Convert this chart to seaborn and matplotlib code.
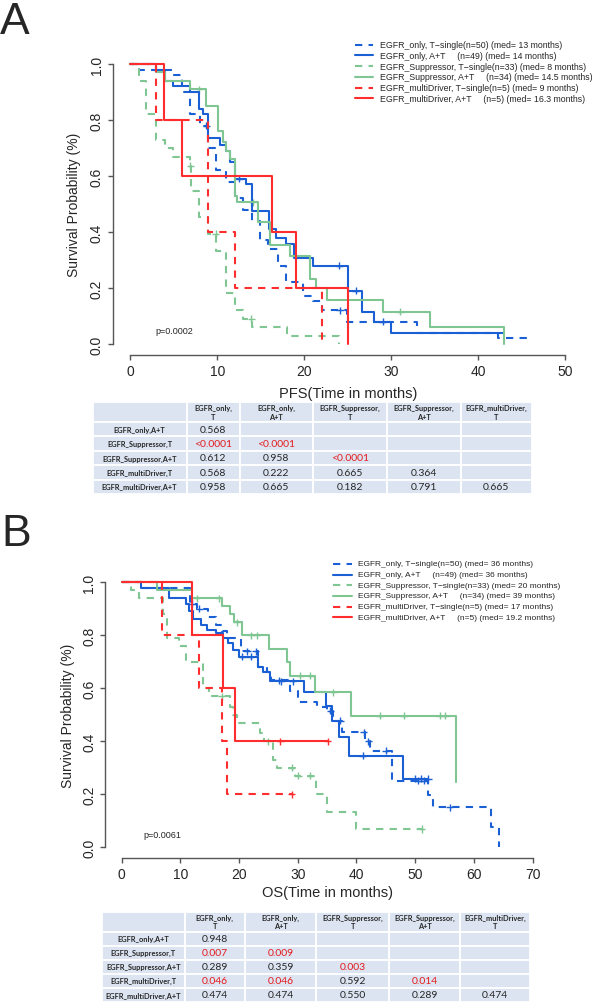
import numpy as np
import pandas as pd
import matplotlib.pyplot as plt
from matplotlib.lines import Line2D
import seaborn as sns

W, H = 596, 1004

# grupos, colores y estilo de linea
grupos = ["EGFR_only, T-single", "EGFR_only, A+T", "EGFR_Suppressor, T-single",
          "EGFR_Suppressor, A+T", "EGFR_multiDriver, T-single", "EGFR_multiDriver, A+T"]
colores = ["#1a5fd3", "#1a5fd3", "#7fc693", "#7fc693", "#ff2d2d", "#ff2d2d"]
discontinua = [True, False, True, False, True, False]

etiquetas_leyenda = ["EGFR_only, T\u2212single(n={n}) (med= {m} months)",
                     "EGFR_only, A+T     (n={n}) (med= {m} months)",
                     "EGFR_Suppressor, T\u2212single(n={n}) (med= {m} months)",
                     "EGFR_Suppressor, A+T     (n={n}) (med= {m} months)",
                     "EGFR_multiDriver, T\u2212single(n={n}) (med= {m} months)",
                     "EGFR_multiDriver, A+T     (n={n}) (med= {m} months)"]
n_pacientes = [50, 49, 33, 34, 5, 5]
pfs_mediana = ["13", "14", "8", "14.5", "9", "16.3"]
os_mediana = ["36", "36", "20", "39", "17", "19.2"]

# ---- PFS (panel A) ----
pfs_only_t_time = [0, 1.0, 4.9, 5.9, 6.9, 8.0, 8.9, 9.9, 11.0, 12.0, 13.0, 14.0, 14.9, 15.8, 17.0, 17.9, 19.9, 21.0, 22.0, 24.9, 33.0, 42.3, 46.2]
pfs_only_t_surv = [1.0, 0.98, 0.96, 0.90, 0.82, 0.78, 0.70, 0.62, 0.58, 0.52, 0.48, 0.44, 0.37, 0.34, 0.28, 0.22, 0.17, 0.155, 0.12, 0.08, 0.04, 0.02, 0.02]
pfs_only_t_cens = [8.7, 24.1, 29.0]

pfs_only_at_time = [0, 3.0, 4.0, 4.9, 6.9, 7.9, 8.4, 8.9, 10.3, 11.0, 11.4, 12.0, 13.3, 14.0, 15.9, 16.7, 17.9, 18.8, 21.0, 25.0, 26.6, 28.0, 30.0, 43.0]
pfs_only_at_surv = [1.0, 0.98, 0.94, 0.92, 0.90, 0.84, 0.82, 0.735, 0.71, 0.69, 0.65, 0.59, 0.57, 0.476, 0.41, 0.38, 0.357, 0.306, 0.28, 0.19, 0.113, 0.08, 0.039, 0.039]
pfs_only_at_cens = [12.5, 24.0, 25.9]

pfs_supp_t_time = [0, 1.0, 1.8, 2.9, 4.0, 4.9, 6.8, 7.0, 7.9, 8.9, 9.9, 11.0, 12.0, 13.0, 14.0, 18.0, 24.0]
pfs_supp_t_surv = [1.0, 0.94, 0.82, 0.73, 0.70, 0.667, 0.636, 0.545, 0.455, 0.394, 0.333, 0.182, 0.121, 0.091, 0.061, 0.030, 0.0]
pfs_supp_t_cens = [6.9, 9.8, 13.9]

pfs_supp_at_time = [0, 3.0, 4.0, 6.9, 8.7, 10.1, 10.6, 11.0, 11.4, 12.0, 12.3, 14.7, 16.1, 18.4, 20.7, 21.3, 22.6, 29.0, 34.5, 43.0]
pfs_supp_at_surv = [1.0, 0.97, 0.94, 0.91, 0.85, 0.76, 0.72, 0.69, 0.66, 0.53, 0.506, 0.434, 0.355, 0.315, 0.232, 0.20, 0.158, 0.115, 0.06, 0.0]
pfs_supp_at_cens = [7.9, 14.1, 31.0]

pfs_multi_t_time = [0, 2.9, 8.9, 12.0, 22.0]
pfs_multi_t_surv = [1.0, 0.8, 0.4, 0.2, 0.0]
pfs_multi_t_cens = []

pfs_multi_at_time = [0, 3.9, 5.9, 16.3, 19.0, 25.0]
pfs_multi_at_surv = [1.0, 0.8, 0.6, 0.4, 0.2, 0.0]
pfs_multi_at_cens = []

# ---- OS (panel B) ----
os_only_t_time = [0, 3.5, 11.6, 12.9, 14.7, 16.0, 17.0, 17.9, 20.3, 23.3, 24.7, 25.5, 28.6, 30.0, 33.3, 34.9, 36.0, 37.6, 41.5, 42.3, 46.0, 52.2, 53.1, 63.0, 64.2]
os_only_t_surv = [1.0, 0.98, 0.92, 0.90, 0.87, 0.84, 0.815, 0.79, 0.74, 0.68, 0.66, 0.63, 0.59, 0.547, 0.53, 0.515, 0.478, 0.434, 0.40, 0.365, 0.251, 0.197, 0.151, 0.075, 0.0]
os_only_t_cens = [12.0, 13.2, 21.4, 22.8, 26.8, 35.5, 37.2, 41.2, 42.0, 45.0, 50.5, 51.5, 55.9]

os_only_at_time = [0, 3.3, 8.1, 11.0, 11.4, 12.2, 13.5, 14.6, 16.0, 17.3, 18.1, 19.0, 19.9, 23.3, 24.0, 25.2, 31.0, 34.8, 35.9, 37.1, 38.7, 48.0, 52.2]
os_only_at_surv = [1.0, 0.98, 0.94, 0.92, 0.893, 0.86, 0.84, 0.82, 0.81, 0.79, 0.77, 0.745, 0.72, 0.68, 0.66, 0.626, 0.587, 0.534, 0.478, 0.415, 0.346, 0.258, 0.258]
os_only_at_cens = [20.5, 22.0, 27.2, 29.1, 41.1, 50.0, 51.0, 52.2]

os_supp_t_time = [0, 1.5, 2.9, 7.1, 7.7, 9.7, 11.0, 13.9, 14.8, 18.4, 19.0, 19.6, 23.6, 24.2, 25.8, 26.5, 29.5, 33.1, 35.0, 40.0, 51.1]
os_supp_t_surv = [1.0, 0.97, 0.94, 0.88, 0.79, 0.76, 0.70, 0.60, 0.57, 0.53, 0.50, 0.47, 0.43, 0.40, 0.33, 0.30, 0.27, 0.20, 0.134, 0.069, 0.069]
os_supp_t_cens = [17.0, 25.0, 29.0, 30.1, 32.1, 51.1]

os_supp_at_time = [0, 6.0, 11.9, 17.1, 18.4, 19.2, 20.5, 25.1, 28.1, 28.6, 32.9, 39.0, 57.0]
os_supp_at_surv = [1.0, 0.97, 0.94, 0.91, 0.88, 0.85, 0.80, 0.75, 0.70, 0.648, 0.585, 0.497, 0.248]
os_supp_at_cens = [12.8, 16.5, 19.6, 22.1, 23.0, 30.4, 32.1, 36.0, 44.0, 48.1, 54.2, 55.1]

os_multi_t_time = [0, 6.8, 13.1, 17.0, 17.9, 29.0]
os_multi_t_surv = [1.0, 0.8, 0.6, 0.4, 0.2, 0.2]
os_multi_t_cens = [29.0]

os_multi_at_time = [0, 12.0, 17.3, 19.3, 35.1]
os_multi_at_surv = [1.0, 0.8, 0.6, 0.4, 0.4]
os_multi_at_cens = [27.0, 35.1]

# ---- tablas de p-valores ----
tabla_cols = ["EGFR_only,\nT", "EGFR_only,\nA+T", "EGFR_Suppressor,\nT",
              "EGFR_Suppressor,\nA+T", "EGFR_multiDriver,\nT"]
tabla_filas = ["EGFR_only,A+T", "EGFR_Suppressor,T", "EGFR_Suppressor,A+T",
               "EGFR_multiDriver,T", "EGFR_multiDriver,A+T"]
pfs_pvalores = [["0.568"],
                ["<0.0001", "<0.0001"],
                ["0.612", "0.958", "<0.0001"],
                ["0.568", "0.222", "0.665", "0.364"],
                ["0.958", "0.665", "0.182", "0.791", "0.665"]]
os_pvalores = [["0.948"],
               ["0.007", "0.009"],
               ["0.289", "0.359", "0.003"],
               ["0.046", "0.046", "0.592", "0.014"],
               ["0.474", "0.474", "0.550", "0.289", "0.474"]]


def caja(left, top, right, bottom):
    return [left / W, 1 - bottom / H, (right - left) / W, (bottom - top) / H]


def dibujar_km(ax, tiempos, survs, censuras, xmax, p_texto, p_pos):
    filas, cens = [], []
    for g, t, s, c in zip(grupos, tiempos, survs, censuras):
        filas.append(pd.DataFrame({"tiempo": t, "surv": s, "grupo": g}))
        t = np.array(t)
        idx = np.searchsorted(t, c, side="right") - 1
        cens.append(pd.DataFrame({"tiempo": c, "surv": np.array(s)[idx] if len(c) else [], "grupo": g}))
    df = pd.concat(filas, ignore_index=True)
    dfc = pd.concat(cens, ignore_index=True)
    paleta = dict(zip(grupos, colores))
    guiones = {g: ((3.5, 3) if d else "") for g, d in zip(grupos, discontinua)}
    sns.lineplot(data=df, x="tiempo", y="surv", hue="grupo", style="grupo",
                 hue_order=grupos, style_order=grupos, palette=paleta, dashes=guiones,
                 estimator=None, sort=False, drawstyle="steps-post", linewidth=1.5,
                 legend=False, ax=ax)
    sns.scatterplot(data=dfc, x="tiempo", y="surv", hue="grupo", hue_order=grupos,
                    palette=paleta, marker="+", s=26, linewidth=1.0, legend=False, ax=ax)
    ax.set_xlim(-0.04 * xmax, 1.04 * xmax)
    ax.set_ylim(-0.04, 1.04)
    ax.set_xticks(np.arange(0, xmax + 1, 10))
    ax.set_yticks([0, 0.2, 0.4, 0.6, 0.8, 1.0])
    ax.set_yticklabels(["0.0", "0.2", "0.4", "0.6", "0.8", "1.0"], rotation=90, va="center")
    for lado in ["top", "right"]:
        ax.spines[lado].set_visible(False)
    ax.spines["left"].set_bounds(0, 1)
    ax.spines["bottom"].set_bounds(0, xmax)
    for lado in ["left", "bottom"]:
        ax.spines[lado].set_color("#555555")
        ax.spines[lado].set_linewidth(1.0)
    ax.tick_params(direction="out", length=3.6, width=1.0, color="#555555",
                   labelsize=10, pad=3)
    ax.text(p_pos[0], p_pos[1], p_texto, fontsize=6.5, ha="center", va="center")


def dibujar_leyenda(fig, medianas, x_linea, x_texto, y0, paso, tam):
    for i, g in enumerate(grupos):
        y = 1 - (y0 + i * paso) / H
        fig.add_artist(Line2D([x_linea[0] / W, x_linea[1] / W], [y, y], color=colores[i],
                              linewidth=1.5, dashes=(3.5, 3) if discontinua[i] else (None, None),
                              transform=fig.transFigure))
        fig.text(x_texto / W, y, etiquetas_leyenda[i].format(n=n_pacientes[i], m=medianas[i]),
                 fontsize=tam, ha="left", va="center")


def dibujar_tabla(fig, rect, anchos, pvalores):
    tax = fig.add_axes(rect)
    tax.axis("off")
    celdas = [[""] + tabla_cols]
    for etiqueta, vals in zip(tabla_filas, pvalores):
        celdas.append([etiqueta] + vals + [""] * (5 - len(vals)))
    tab = tax.table(cellText=celdas, cellLoc="center", bbox=[0, 0, 1, 1], colWidths=anchos)
    tab.auto_set_font_size(False)
    for (r, c), cell in tab.get_celld().items():
        cell.set_facecolor("#dce4f1")
        cell.set_edgecolor("white")
        cell.set_linewidth(1.3)
        cell.set_height(20 if r == 0 else 14.4)
        txt = cell.get_text()
        txt.set_fontfamily(["Lato", "DejaVu Sans"])
        if r == 0 or c == 0:
            txt.set_fontsize(5.3)
            txt.set_fontweight("bold")
        else:
            txt.set_fontsize(7.5)
            v = txt.get_text()
            if v and (v.startswith("<") or float(v) < 0.05):
                txt.set_color("#e41a1c")


sns.set_style("ticks")
plt.rcParams["font.family"] = ["Liberation Sans", "DejaVu Sans"]

fig = plt.figure(figsize=(W / 100, H / 100), dpi=100)

# panel A
axA = fig.add_axes(caja(113.0, 53.8, 582.6, 356.2))
dibujar_km(axA,
           [pfs_only_t_time, pfs_only_at_time, pfs_supp_t_time, pfs_supp_at_time, pfs_multi_t_time, pfs_multi_at_time],
           [pfs_only_t_surv, pfs_only_at_surv, pfs_supp_t_surv, pfs_supp_at_surv, pfs_multi_t_surv, pfs_multi_at_surv],
           [pfs_only_t_cens, pfs_only_at_cens, pfs_supp_t_cens, pfs_supp_at_cens, pfs_multi_t_cens, pfs_multi_at_cens],
           50, "p=0.0002", (5.0, 0.048))
axA.set_xlabel("PFS(Time in months)", fontsize=10.5, va="center")
axA.xaxis.set_label_coords(0.5, -0.125)
axA.set_ylabel("Survival Probability (%)", fontsize=10, va="center")
axA.yaxis.set_label_coords((74 - 113.0) / 469.6, 0.5)
dibujar_leyenda(fig, pfs_mediana, (355, 373), 380, 45.7, 10.7, 6.3)
dibujar_tabla(fig, caja(92.5, 403, 531.8, 495), [94, 53, 73.5, 73.5, 74, 71], pfs_pvalores)
fig.text(0 / W, 1 - 34.5 / H, "A", fontsize=32, ha="left", va="baseline")

# panel B
axB = fig.add_axes(caja(105.3, 572.7, 549.0, 858.9))
dibujar_km(axB,
           [os_only_t_time, os_only_at_time, os_supp_t_time, os_supp_at_time, os_multi_t_time, os_multi_at_time],
           [os_only_t_surv, os_only_at_surv, os_supp_t_surv, os_supp_at_surv, os_multi_t_surv, os_multi_at_surv],
           [os_only_t_cens, os_only_at_cens, os_supp_t_cens, os_supp_at_cens, os_multi_t_cens, os_multi_at_cens],
           70, "p=0.0061", (6.95, 0.048))
axB.set_xlabel("OS(Time in months)", fontsize=10.5, va="center")
axB.xaxis.set_label_coords(0.5, -0.119)
axB.set_ylabel("Survival Probability (%)", fontsize=10, va="center")
axB.yaxis.set_label_coords((68 - 105.3) / 443.7, 0.5)
dibujar_leyenda(fig, os_mediana, (333.3, 351.7), 357.7, 565, 10.65, 6.0)
dibujar_tabla(fig, caja(102, 913, 530, 1003), [82.8, 59.8, 71.8, 72.5, 71.1, 70], os_pvalores)
fig.text(1 / W, 1 - 546 / H, "B", fontsize=32, ha="left", va="baseline")

fig.savefig("out.png", dpi=100)
